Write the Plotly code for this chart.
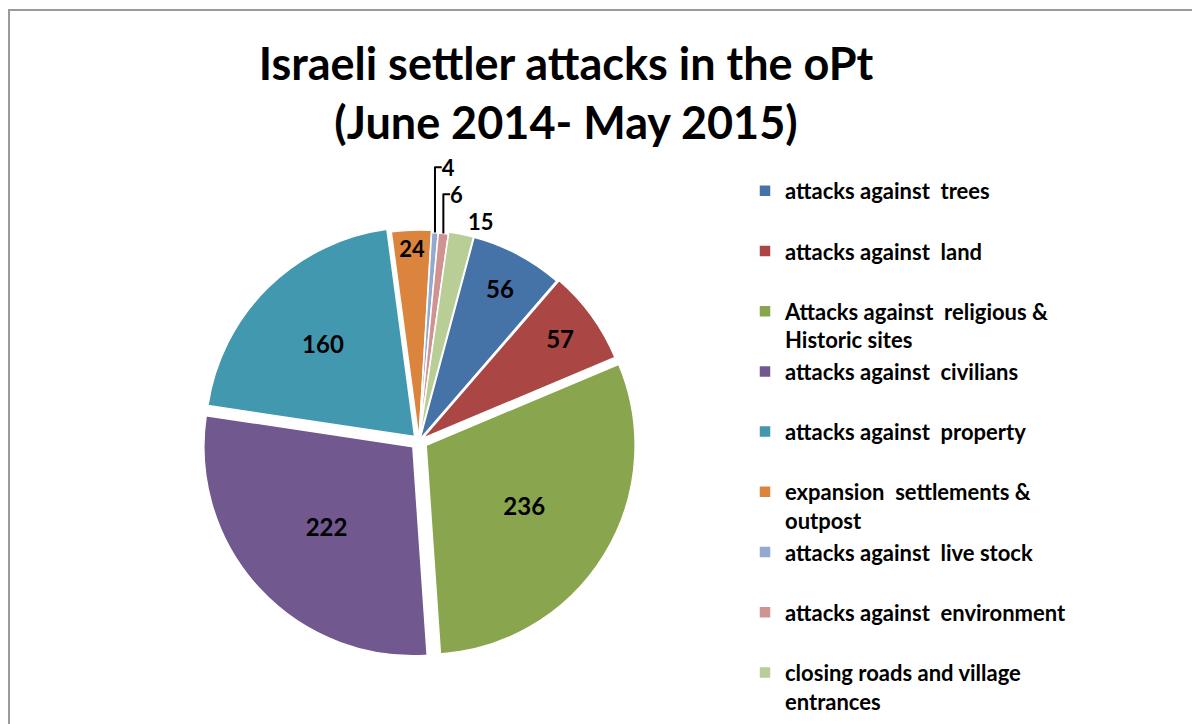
import plotly.graph_objects as go

categories = [
    "attacks against  trees",
    "attacks against  land",
    "Attacks against  religious &<br>Historic sites",
    "attacks against  civilians",
    "attacks against  property",
    "expansion  settlements &<br>outpost",
    "attacks against  live stock",
    "attacks against  environment",
    "closing roads and village<br>entrances",
]
values = [56, 57, 236, 222, 160, 24, 4, 6, 15]
colors = ["#4572A7", "#AA4643", "#89A54E", "#71588F", "#4198AF",
          "#DB843D", "#93A9CF", "#D19392", "#B9CD96"]
pulls = [0.01, 0.02, 0.04, 0.04, 0.03, 0.01, 0.0, 0.0, 0.01]
text_pos = ["inside"] * 6 + ["outside"] * 3

W, H = 1192, 724
cx, cy, R = 419, 441, 209
half = R * (1 + max(pulls))

# make every legend entry two lines so spacing is uniform
legend_labels = ["<b>" + (c if "<br>" in c else c + "<br> ") + "</b>" for c in categories]

fig = go.Figure(go.Pie(
    labels=legend_labels,
    values=values,
    sort=False,
    direction="clockwise",
    rotation=15,
    pull=pulls,
    marker=dict(colors=colors, line=dict(color="white", width=1.5)),
    texttemplate="<b>%{value}</b>",
    textposition=text_pos,
    insidetextorientation="horizontal",
    textfont=dict(family="Lato", size=24, color="black"),
    outsidetextfont=dict(family="Lato", size=22, color="black"),
    domain=dict(x=[(cx - half) / W, (cx + half) / W],
                y=[1 - (cy + half) / H, 1 - (cy - half) / H]),
    hoverinfo="label+value",
))

fig.update_layout(
    width=W, height=H,
    margin=dict(l=0, r=0, t=0, b=0),
    paper_bgcolor="white",
    title=dict(
        text="<b>Israeli settler attacks in the oPt<br>(June 2014- May 2015)</b>",
        x=566 / W, xanchor="center", y=1 - 80 / H, yanchor="top",
        font=dict(family="Lato", size=45, color="black"),
    ),
    legend=dict(
        x=745 / W, xanchor="left", y=1 - 170 / H, yanchor="top",
        valign="top",
        font=dict(family="Lato", size=22, color="black"),
        tracegroupgap=0,
        bgcolor="rgba(0,0,0,0)",
    ),
    shapes=[dict(type="rect", xref="paper", yref="paper",
                 x0=9 / W, x1=1.2, y0=-0.2, y1=1 - 10 / H,
                 line=dict(color="#9A9A9A", width=2))],
)

fig.write_html("out.html", config={"displayModeBar": False},
               post_script="document.body.style.margin='0';")
